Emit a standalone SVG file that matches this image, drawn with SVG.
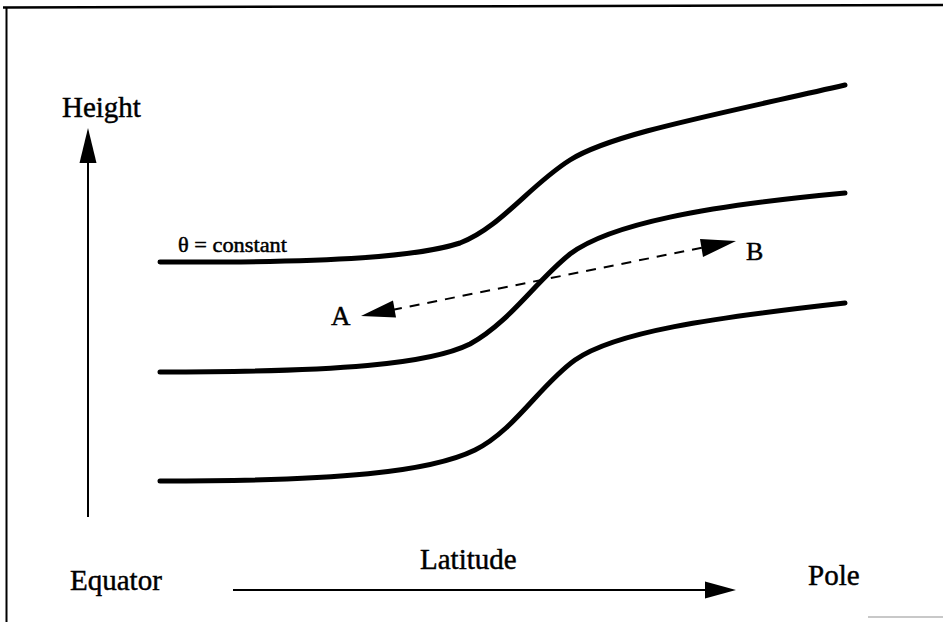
<svg xmlns="http://www.w3.org/2000/svg" width="943" height="622" viewBox="0 0 943 622">
<style>
.t{font-family:"Liberation Serif","Times New Roman",serif;fill:#000;stroke:#000;stroke-width:0.45}
.curve{fill:none;stroke:#000;stroke-width:5;stroke-linecap:round}
.ax{stroke:#000;stroke-width:2;fill:none}
</style>
<rect x="0" y="0" width="943" height="622" fill="#fff"/>
<g id="frame">
<line x1="3" y1="7.5" x2="943" y2="5" stroke="#000" stroke-width="2.5"/>
<line x1="6.5" y1="7" x2="6.5" y2="622" stroke="#000" stroke-width="2"/>
<line x1="868" y1="617" x2="943" y2="617" stroke="#c8c8c8" stroke-width="2"/>
</g>
<g id="isentropes">
<path id="curve1" class="curve" d="M160,262 C340,263 420,256 460,243 C500,228 530,185 570,160 C610,135 700,118 845,85"/>
<path id="curve2" class="curve" d="M160,372 C340,372 430,364 470,344 C510,322 535,282 570,254 C610,224 705,206 845,193"/>
<path id="curve3" class="curve" d="M160,481 C340,481 430,472 475,450 C515,430 540,385 575,360 C615,332 710,318 845,303"/>
</g>
<g id="connectors">
<g id="height-axis">
<line class="ax" x1="88" y1="517" x2="88" y2="158"/>
<polygon points="88,128 79.5,163 96.5,163" fill="#000"/>
</g>
<g id="latitude-axis">
<line class="ax" x1="233" y1="590" x2="710" y2="590"/>
<polygon points="736,590 705,581.5 705,598.5" fill="#000"/>
</g>
<g id="AB-path">
<line x1="392" y1="310" x2="703" y2="247.5" stroke="#000" stroke-width="2" stroke-dasharray="10,8"/>
<polygon points="361,316 393,300.5 396,317.5" fill="#000"/>
<polygon points="736,241 700,239 703,257" fill="#000"/>
</g>
</g>
<g id="labels">
<text class="t" x="62" y="117" font-size="29">Height</text>
<text class="t" x="178" y="252" font-size="20" textLength="109" lengthAdjust="spacingAndGlyphs">θ = constant</text>
<text class="t" x="331" y="325" font-size="27">A</text>
<text class="t" x="746" y="260" font-size="26">B</text>
<text class="t" x="70" y="590" font-size="29">Equator</text>
<text class="t" x="420" y="569" font-size="29">Latitude</text>
<text class="t" x="808" y="585" font-size="29">Pole</text>
</g>
</svg>
